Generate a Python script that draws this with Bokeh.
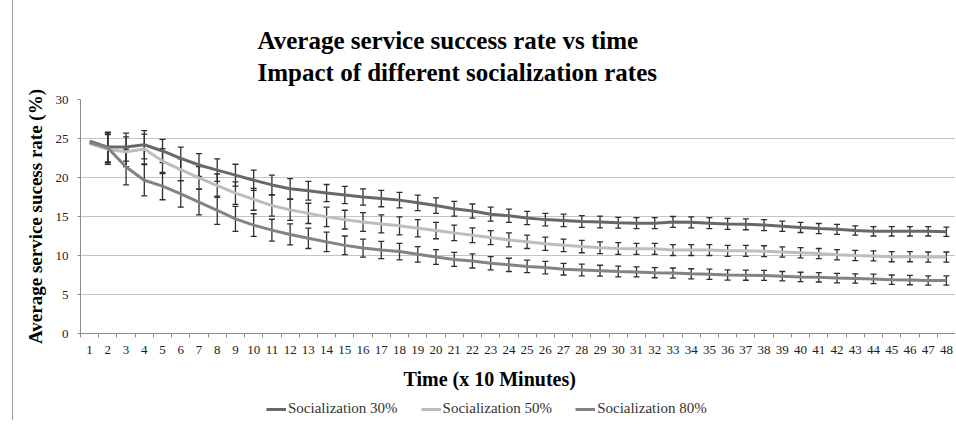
from bokeh.plotting import figure
from bokeh.layouts import column
from bokeh.models import (ColumnDataSource, Whisker, TeeHead, FixedTicker, Legend, LegendItem,
                          Title)
from bokeh.embed import file_html
from bokeh.resources import INLINE

time_steps = list(range(1, 49))
tick_labels = [str(t) for t in time_steps]

series_names = ["Socialization 30%", "Socialization 50%", "Socialization 80%"]

soc30 = [24.65, 23.9, 23.9, 24.2, 23.4, 22.45, 21.6, 20.95, 20.3, 19.65, 19.05, 18.55,
         18.3, 18.0, 17.75, 17.5, 17.3, 17.1, 16.75, 16.4, 16.0, 15.7, 15.3, 15.1,
         14.8, 14.6, 14.5, 14.35, 14.3, 14.2, 14.15, 14.15, 14.3, 14.25, 14.15, 14.05,
         14.0, 13.9, 13.75, 13.6, 13.45, 13.35, 13.2, 13.1, 13.1, 13.1, 13.1, 13.05]
soc50 = [24.35, 23.6, 23.3, 23.65, 22.1, 21.0, 19.95, 18.95, 18.0, 17.2, 16.4, 15.85,
         15.4, 14.95, 14.6, 14.3, 14.05, 13.8, 13.5, 13.2, 12.9, 12.6, 12.3, 12.0,
         11.75, 11.5, 11.3, 11.15, 11.0, 10.9, 10.85, 10.85, 10.7, 10.7, 10.7, 10.6,
         10.6, 10.55, 10.45, 10.35, 10.25, 10.1, 10.0, 9.95, 9.85, 9.85, 9.8, 9.8]
soc80 = [24.5, 23.8, 21.35, 19.65, 18.9, 17.9, 16.85, 15.8, 14.7, 13.9, 13.25, 12.7,
         12.2, 11.75, 11.3, 10.95, 10.7, 10.5, 10.15, 9.8, 9.5, 9.3, 9.0, 8.8,
         8.6, 8.45, 8.25, 8.15, 8.05, 7.95, 7.9, 7.8, 7.75, 7.65, 7.6, 7.5,
         7.48, 7.45, 7.35, 7.25, 7.2, 7.1, 7.05, 7.0, 6.9, 6.85, 6.8, 6.8]

err30 = [0, 1.9, 1.8, 1.8, 1.5, 1.45, 1.45, 1.45, 1.4, 1.3, 1.25, 1.3, 1.2, 1.1, 1.1, 1.05,
         1.05, 1.0, 1.0, 1.0, 0.95, 0.9, 0.9, 0.85, 0.85, 0.8, 0.8, 0.75, 0.75, 0.7, 0.7, 0.7,
         0.7, 0.7, 0.7, 0.7, 0.7, 0.7, 0.65, 0.65, 0.65, 0.65, 0.6, 0.6, 0.6, 0.6, 0.6, 0.6]
err50 = [0, 1.9, 1.9, 1.9, 1.6, 1.4, 1.45, 1.5, 1.45, 1.4, 1.35, 1.35, 1.3, 1.25, 1.2, 1.2,
         1.15, 1.15, 1.1, 1.05, 1.0, 0.95, 0.9, 0.9, 0.85, 0.85, 0.8, 0.8, 0.75, 0.75, 0.7, 0.7,
         0.7, 0.7, 0.7, 0.7, 0.7, 0.7, 0.65, 0.65, 0.65, 0.65, 0.65, 0.65, 0.65, 0.65, 0.65, 0.65]
err80 = [0, 1.9, 2.3, 2.0, 1.75, 1.7, 1.65, 1.8, 1.6, 1.45, 1.4, 1.35, 1.3, 1.25, 1.2, 1.15,
         1.1, 1.05, 1.0, 0.95, 0.9, 0.9, 0.85, 0.85, 0.8, 0.8, 0.75, 0.75, 0.7, 0.7, 0.65, 0.65,
         0.65, 0.65, 0.65, 0.65, 0.65, 0.65, 0.6, 0.6, 0.6, 0.6, 0.6, 0.6, 0.6, 0.6, 0.6, 0.6]

y_ticks = [0, 5, 10, 15, 20, 25, 30]

title_lines = ["Average service success rate vs time",
               "Impact of different socialization rates"]
x_title = "Time (x 10 Minutes)"
y_title = "Average service sucess rate (%)"

line_colors = ["#686868", "#bdbdbd", "#838383"]
bar_color = "#2e2e2e"
SERIF = "Liberation Serif"

p = figure(width=942, height=409, output_backend="svg", toolbar_location=None,
           x_range=(0.5, 48.5), y_range=(0, 30),
           min_border_left=67, min_border_right=0, min_border_top=110, min_border_bottom=63)
p.outline_line_color = None
p.background_fill_color = "white"
p.border_fill_color = "white"

tt = Title(text="\n".join(title_lines), align="left", offset=177, text_font=SERIF,
           text_font_size="25px", text_font_style="bold", text_color="black",
           text_line_height=1.18, standoff=27)
p.add_layout(tt, "above")

# axes
p.xaxis.ticker = FixedTicker(ticks=time_steps, minor_ticks=[t + 0.5 for t in [0] + time_steps])
p.xaxis.major_label_overrides = {t: l for t, l in zip(time_steps, tick_labels)}
p.xaxis.major_tick_line_color = None
p.xaxis.major_tick_out = 4
p.xaxis.minor_tick_in = 0
p.xaxis.minor_tick_out = 4
p.xaxis.minor_tick_line_color = "#8c8c8c"
p.xaxis.axis_line_color = "#8c8c8c"
p.xaxis.major_label_text_font = SERIF
p.xaxis.major_label_text_font_size = "13px"
p.xaxis.major_label_text_color = "#222222"
p.xaxis.major_label_standoff = 8

xt = Title(text=x_title, align="left", offset=323, text_font=SERIF,
           text_font_size="20px", text_font_style="bold", text_color="black", standoff=18)
p.add_layout(xt, "below")

p.yaxis.ticker = FixedTicker(ticks=y_ticks)
p.yaxis.minor_tick_line_color = None
p.yaxis.major_tick_in = 0
p.yaxis.major_tick_out = 3
p.yaxis.major_tick_line_color = "#8c8c8c"
p.yaxis.axis_line_color = "#8c8c8c"
p.yaxis.major_label_text_font = SERIF
p.yaxis.major_label_text_font_size = "13px"
p.yaxis.major_label_text_color = "#222222"
p.yaxis.major_label_standoff = 9
p.yaxis.axis_label = y_title
p.yaxis.axis_label_text_font = SERIF
p.yaxis.axis_label_text_font_size = "19px"
p.yaxis.axis_label_text_font_style = "bold"
p.yaxis.axis_label_text_color = "black"
p.yaxis.axis_label_standoff = 7

p.xgrid.grid_line_color = None
p.ygrid.ticker = FixedTicker(ticks=y_ticks)
p.ygrid.grid_line_color = "#c4c4c4"
p.ygrid.grid_line_width = 1

all_vals = [soc30, soc50, soc80]
all_errs = [err30, err50, err80]

for vals, col in zip(all_vals, line_colors):
    src = ColumnDataSource(dict(x=time_steps, y=vals))
    p.line("x", "y", source=src, line_color=col, line_width=3)

for vals, errs in zip(all_vals, all_errs):
    xs = [t for t, e in zip(time_steps, errs) if e > 0]
    src = ColumnDataSource(dict(x=xs,
                                lo=[v - e for v, e in zip(vals, errs) if e > 0],
                                hi=[v + e for v, e in zip(vals, errs) if e > 0]))
    w = Whisker(base="x", lower="lo", upper="hi", source=src, line_color=bar_color,
                line_width=1.3,
                upper_head=TeeHead(size=6, line_color=bar_color, line_width=1.3),
                lower_head=TeeHead(size=6, line_color=bar_color, line_width=1.3))
    p.add_layout(w)

# legend strip below the chart: same series, drawn outside its visible range
lf = figure(width=942, height=22, output_backend="svg", toolbar_location=None,
            x_range=(0.5, 48.5), y_range=(-2, -1), min_border=0)
lf.axis.visible = False
lf.grid.visible = False
lf.outline_line_color = None
items = []
for name, vals, col in zip(series_names, all_vals, line_colors):
    r = lf.line(x=time_steps, y=vals, line_color=col, line_width=3)
    items.append(LegendItem(label=name, renderers=[r]))
legend = Legend(items=items, orientation="horizontal", location=(186, 3),
                label_text_font=SERIF, label_text_font_size="15px",
                label_text_color="#333333", glyph_width=20, glyph_height=14,
                label_height=14, label_standoff=2,
                spacing=23, padding=0, margin=0, border_line_color=None,
                background_fill_alpha=0)
lf.add_layout(legend)

layout = column(p, lf, spacing=0, margin=(-12, 0, 0, 12),
                styles={"border-left": "1px solid #9a9a9a", "border-top": "1px solid #9a9a9a"})

open("out.html", "w").write(file_html(layout, INLINE))
